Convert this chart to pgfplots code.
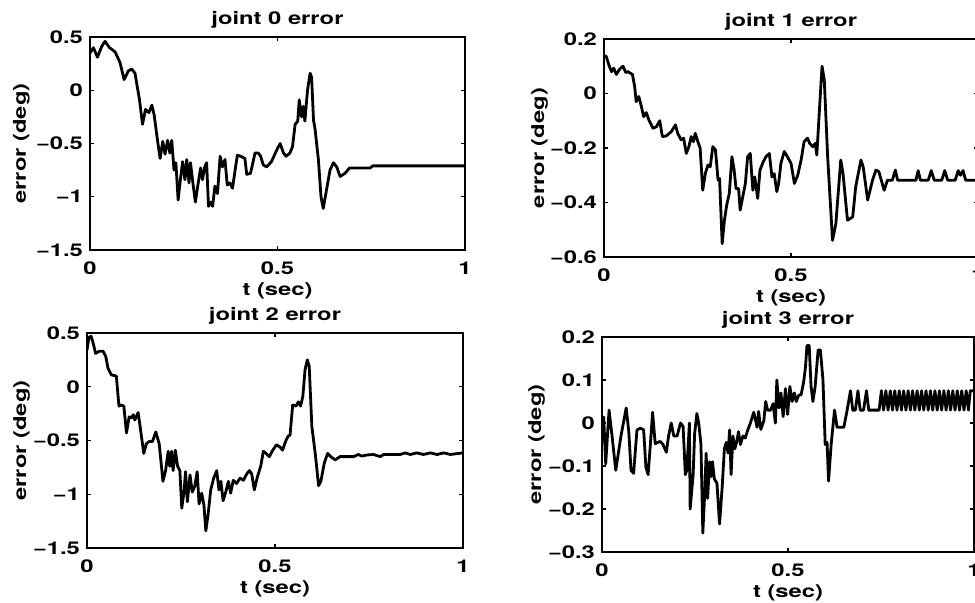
\documentclass[border=0pt]{standalone}
\usepackage{pgfplots}
\pgfplotsset{compat=1.18}
\usepackage{fontspec}
\setmainfont[FakeStretch=1.35]{TeX Gyre Heros}
\newcommand{\lblfont}{\fontsize{8.8}{10}\selectfont\bfseries}
\pgfplotsset{
  errax/.style={
    scale only axis,
    xmin=0, xmax=1,
    axis line style={line width=0.8pt},
    tick align=inside,
    tick pos=both,
    major tick length=2pt,
    every tick/.style={black, line width=0.6pt},
    xtick={0,0.5,1},
    xticklabels={0,0.5,1},
    tick label style={font=\lblfont},
    xticklabel style={yshift=-2.5pt},
    label style={font=\lblfont},
    title style={font=\lblfont, yshift=-5pt},
    xlabel={t (sec)},
    ylabel={error (deg)},
    xlabel style={at={(axis description cs:0.5,0)}, anchor=north, yshift=-13pt},
    clip=true,
  },
  errline/.style={black, line width=1.4pt, line join=round, no markers},
}
\begin{document}
\begin{tikzpicture}
\useasboundingbox (0pt,0pt) rectangle (487.5pt,301pt);

% ---------------- joint 0 ----------------
\begin{axis}[errax,
  at={(45pt,176pt)}, anchor=south west,
  width=187.5pt, height=106.5pt,
  ymin=-1.5, ymax=0.5,
  ytick={-1.5,-1,-0.5,0,0.5},
  yticklabels={−1.5,−1,−0.5,0,0.5},
  ylabel style={at={(axis description cs:-0.183,0.5)}, anchor=center},
  title={joint 0 error}]
\addplot[errline] coordinates {
(0,0.35)(0.009,0.40)(0.020,0.31)(0.031,0.41)(0.040,0.46)(0.052,0.40)(0.067,0.36)
(0.080,0.26)(0.091,0.10)(0.102,0.18)(0.111,0.20)(0.120,0.16)(0.132,-0.09)(0.140,-0.32)
(0.148,-0.18)(0.157,-0.21)(0.165,-0.14)(0.171,-0.23)(0.180,-0.47)(0.187,-0.64)(0.194,-0.48)
(0.200,-0.60)(0.207,-0.47)(0.213,-0.59)(0.218,-0.47)(0.224,-0.75)(0.229,-0.68)(0.235,-1.03)
(0.241,-0.84)(0.247,-0.67)(0.253,-0.84)(0.258,-0.65)(0.264,-0.87)(0.268,-0.68)(0.274,-0.86)
(0.281,-1.05)(0.289,-0.86)(0.295,-0.73)(0.300,-0.84)(0.306,-0.72)(0.311,-0.68)(0.316,-1.09)
(0.322,-1.05)(0.327,-1.09)(0.333,-0.90)(0.340,-0.97)(0.347,-0.62)(0.353,-0.72)(0.360,-0.65)
(0.366,-0.89)(0.373,-0.87)(0.380,-0.92)(0.387,-0.75)(0.393,-0.61)(0.402,-0.62)(0.413,-0.64)
(0.418,-0.79)(0.428,-0.78)(0.440,-0.59)(0.449,-0.59)(0.455,-0.62)(0.462,-0.70)(0.471,-0.72)
(0.484,-0.67)(0.498,-0.56)(0.507,-0.50)(0.516,-0.59)(0.523,-0.62)(0.533,-0.59)(0.540,-0.53)
(0.547,-0.32)(0.554,-0.29)(0.558,-0.09)(0.564,-0.25)(0.569,-0.15)(0.573,-0.29)(0.580,0.00)
(0.587,0.16)(0.591,0.12)(0.596,-0.28)(0.600,-0.36)(0.609,-0.65)(0.616,-1.00)(0.622,-1.11)
(0.629,-0.97)(0.640,-0.75)(0.649,-0.68)(0.658,-0.72)(0.667,-0.81)(0.680,-0.78)(0.692,-0.73)
(0.747,-0.73)(0.754,-0.71)(1.0,-0.71)
};
\end{axis}

% ---------------- joint 1 ----------------
\begin{axis}[errax,
  at={(302pt,172.5pt)}, anchor=south west,
  width=187pt, height=109pt,
  ymin=-0.6, ymax=0.2,
  ytick={-0.6,-0.4,-0.2,0,0.2},
  yticklabels={−0.6,−0.4,−0.2,0,0.2},
  ylabel style={at={(axis description cs:-0.172,0.5)}, anchor=center},
  title={joint 1 error}]
\addplot[errline] coordinates {
(0,0.14)(0.006,0.136)(0.013,0.105)(0.020,0.08)(0.026,0.093)(0.033,0.07)(0.042,0.09)
(0.051,0.10)(0.058,0.077)(0.064,0.08)(0.076,0.07)(0.082,0.026)(0.086,-0.03)(0.093,-0.011)
(0.100,-0.048)(0.106,-0.085)(0.113,-0.07)(0.120,-0.097)(0.131,-0.128)(0.140,-0.122)(0.149,-0.10)
(0.156,-0.158)(0.166,-0.156)(0.180,-0.14)(0.191,-0.115)(0.197,-0.146)(0.206,-0.17)(0.213,-0.164)
(0.220,-0.22)(0.227,-0.195)(0.233,-0.158)(0.239,-0.177)(0.244,-0.146)(0.251,-0.177)(0.257,-0.20)
(0.264,-0.355)(0.271,-0.293)(0.278,-0.262)(0.284,-0.269)(0.291,-0.195)(0.298,-0.207)(0.305,-0.318)
(0.309,-0.312)(0.316,-0.551)(0.322,-0.465)(0.328,-0.41)(0.335,-0.367)(0.342,-0.232)(0.348,-0.281)
(0.353,-0.349)(0.360,-0.349)(0.364,-0.428)(0.371,-0.379)(0.378,-0.33)(0.384,-0.232)(0.391,-0.22)
(0.398,-0.355)(0.403,-0.306)(0.411,-0.385)(0.417,-0.281)(0.426,-0.25)(0.433,-0.232)(0.442,-0.22)
(0.449,-0.306)(0.455,-0.294)(0.462,-0.36)(0.467,-0.33)(0.473,-0.256)(0.482,-0.213)(0.488,-0.226)
(0.500,-0.256)(0.509,-0.33)(0.518,-0.30)(0.527,-0.244)(0.535,-0.177)(0.544,-0.164)(0.550,-0.183)
(0.558,-0.195)(0.565,-0.183)(0.569,-0.226)(0.576,-0.06)(0.583,0.10)(0.589,0.05)(0.598,-0.232)
(0.611,-0.539)(0.620,-0.477)(0.633,-0.244)(0.639,-0.293)(0.651,-0.465)(0.665,-0.453)(0.673,-0.342)
(0.687,-0.244)(0.693,-0.269)(0.705,-0.391)(0.718,-0.318)(0.727,-0.281)(0.735,-0.287)(0.749,-0.355)
(0.758,-0.318)(0.771,-0.318)(0.779,-0.281)(0.785,-0.318)(0.834,-0.318)(0.840,-0.283)(0.846,-0.318)
(0.867,-0.318)(0.875,-0.283)(0.883,-0.318)(0.903,-0.318)(0.911,-0.283)(0.919,-0.318)(0.939,-0.318)
(0.947,-0.283)(0.953,-0.30)(0.960,-0.283)(0.967,-0.318)(1.0,-0.318)
};
\end{axis}

% ---------------- joint 2 ----------------
\begin{axis}[errax,
  at={(43.5pt,27pt)}, anchor=south west,
  width=188pt, height=107.5pt,
  ymin=-1.5, ymax=0.5,
  ytick={-1.5,-1,-0.5,0,0.5},
  yticklabels={−1.5,−1,−0.5,0,0.5},
  ylabel style={at={(axis description cs:-0.174,0.5)}, anchor=center},
  title={joint 2 error}]
\addplot[errline] coordinates {
(0,0.34)(0.005,0.46)(0.011,0.47)(0.016,0.41)(0.023,0.31)(0.032,0.33)(0.043,0.33)
(0.050,0.28)(0.056,0.17)(0.065,0.11)(0.078,0.10)(0.085,-0.18)(0.091,-0.17)(0.098,-0.18)
(0.105,-0.43)(0.112,-0.28)(0.118,-0.29)(0.123,-0.26)(0.127,-0.31)(0.136,-0.24)(0.142,-0.39)
(0.151,-0.62)(0.158,-0.53)(0.165,-0.51)(0.174,-0.51)(0.183,-0.42)(0.192,-0.53)(0.202,-0.88)
(0.209,-0.78)(0.216,-0.60)(0.220,-0.74)(0.225,-0.60)(0.229,-0.78)(0.235,-0.59)(0.241,-0.74)
(0.247,-0.78)(0.252,-1.13)(0.258,-0.98)(0.262,-0.79)(0.267,-1.07)(0.274,-0.82)(0.280,-0.98)
(0.287,-0.92)(0.293,-0.79)(0.298,-1.09)(0.305,-0.99)(0.311,-1.10)(0.316,-1.34)(0.322,-1.19)
(0.329,-0.96)(0.337,-0.85)(0.345,-0.78)(0.351,-0.96)(0.356,-0.88)(0.362,-1.06)(0.369,-0.98)
(0.376,-0.88)(0.382,-0.99)(0.389,-0.87)(0.398,-0.90)(0.407,-0.85)(0.416,-0.87)(0.425,-0.81)
(0.432,-0.78)(0.438,-0.81)(0.445,-0.96)(0.453,-0.84)(0.462,-0.74)(0.469,-0.60)(0.476,-0.62)
(0.485,-0.65)(0.494,-0.59)(0.504,-0.54)(0.513,-0.56)(0.520,-0.59)(0.529,-0.50)(0.535,-0.46)
(0.540,-0.45)(0.547,-0.17)(0.556,-0.18)(0.562,-0.14)(0.568,-0.18)(0.574,-0.09)(0.580,0.16)
(0.586,0.25)(0.591,0.19)(0.598,-0.37)(0.607,-0.62)(0.616,-0.92)(0.622,-0.88)(0.631,-0.71)
(0.640,-0.62)(0.648,-0.65)(0.660,-0.68)(0.673,-0.65)(0.709,-0.65)(0.722,-0.63)(0.731,-0.645)
(0.744,-0.635)(0.762,-0.63)(0.780,-0.65)(0.789,-0.63)(0.833,-0.63)(0.846,-0.615)(0.860,-0.63)
(0.877,-0.615)(0.895,-0.63)(0.913,-0.615)(0.931,-0.63)(0.949,-0.615)(0.966,-0.63)(1.0,-0.615)
};
\end{axis}

% ---------------- joint 3 ----------------
\begin{axis}[errax,
  at={(301pt,25pt)}, anchor=south west,
  width=186pt, height=107.5pt,
  ymin=-0.3, ymax=0.2,
  ytick={-0.3,-0.2,-0.1,0,0.1,0.2},
  yticklabels={−0.3,−0.2,−0.1,0,0.1,0.2},
  ylabel style={at={(axis description cs:-0.176,0.5)}, anchor=center},
  title={joint 3 error}]
\addplot[errline] coordinates {
(0,-0.045)(0.0045,0.014)(0.010,-0.095)(0.019,0.03)(0.027,-0.03)(0.037,-0.11)(0.051,-0.03)
(0.065,0.035)(0.072,-0.02)(0.078,-0.11)(0.085,-0.117)(0.094,-0.016)(0.103,-0.012)(0.112,-0.016)
(0.118,-0.103)(0.124,-0.12)(0.130,-0.05)(0.136,0.025)(0.143,-0.048)(0.150,-0.045)(0.157,-0.043)
(0.164,-0.05)(0.173,-0.068)(0.179,-0.03)(0.186,0.0)(0.193,-0.03)(0.202,-0.03)(0.211,0.0)
(0.218,-0.008)(0.224,-0.12)(0.228,-0.11)(0.235,0.0)(0.237,-0.20)(0.245,-0.12)(0.249,-0.025)
(0.255,0.022)(0.260,0.0)(0.266,-0.05)(0.271,-0.256)(0.276,-0.165)(0.280,-0.07)(0.284,-0.175)
(0.289,-0.09)(0.293,-0.125)(0.297,-0.09)(0.302,-0.13)(0.309,-0.14)(0.316,-0.235)(0.323,-0.15)
(0.329,-0.06)(0.334,-0.045)(0.339,-0.07)(0.343,-0.016)(0.347,-0.12)(0.352,-0.03)(0.357,-0.06)
(0.363,-0.04)(0.367,-0.02)(0.372,-0.05)(0.379,-0.03)(0.385,-0.035)(0.392,-0.016)(0.399,0.0)
(0.408,0.025)(0.417,-0.01)(0.421,0.027)(0.427,-0.015)(0.435,0.005)(0.440,0.05)(0.445,0.03)
(0.453,0.03)(0.460,0.045)(0.466,0.0)(0.470,0.10)(0.476,0.035)(0.481,0.07)(0.487,0.015)
(0.493,0.08)(0.499,0.02)(0.505,0.085)(0.511,0.05)(0.517,0.07)(0.522,0.05)(0.529,0.065)
(0.535,0.065)(0.542,0.095)(0.547,0.13)(0.551,0.18)(0.557,0.18)(0.562,0.085)(0.567,0.05)
(0.573,0.085)(0.581,0.17)(0.587,0.17)(0.594,0.10)(0.600,-0.05)(0.605,-0.045)(0.609,-0.135)
(0.616,-0.05)(0.625,0.03)(0.632,-0.01)(0.650,-0.01)(0.659,0.03)(0.668,0.075)(0.674,0.03)
(0.681,0.03)(0.688,0.075)(0.694,0.03)(0.703,0.03)(0.711,0.075)(0.717,0.03)(0.745,0.03)
(0.751,0.075)(0.757,0.03)(0.763,0.075)(0.769,0.03)(0.775,0.075)(0.781,0.03)(0.787,0.075)
(0.793,0.03)(0.799,0.075)(0.805,0.03)(0.811,0.075)(0.817,0.03)(0.823,0.075)(0.829,0.03)
(0.835,0.075)(0.841,0.03)(0.847,0.075)(0.853,0.03)(0.859,0.075)(0.865,0.03)(0.871,0.075)
(0.877,0.03)(0.883,0.075)(0.889,0.03)(0.895,0.075)(0.901,0.03)(0.907,0.075)(0.913,0.03)
(0.919,0.075)(0.925,0.03)(0.931,0.075)(0.937,0.03)(0.943,0.075)(0.949,0.03)(0.955,0.075)
(0.961,0.03)(0.967,0.075)(0.973,0.03)(0.979,0.075)(0.985,0.03)(0.990,0.075)(1.0,0.075)
};
\end{axis}
\end{tikzpicture}
\end{document}
